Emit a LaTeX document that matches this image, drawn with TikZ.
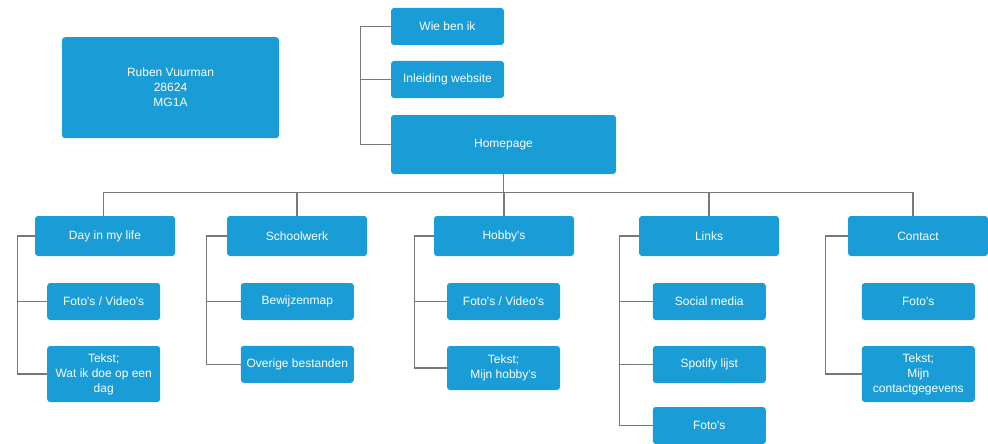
\documentclass[tikz,border=0pt]{standalone}
\usepackage{fontspec}
\setmainfont{Liberation Sans}
\usetikzlibrary{positioning}
\definecolor{boxblue}{RGB}{26,156,214}
\definecolor{linegray}{RGB}{120,120,120}
\newcommand{\apos}{\textquotesingle}
\tikzset{
  box/.style={fill=boxblue, rounded corners=3pt, text=white, align=center, inner sep=0pt,
    font=\fontsize{12}{15}\selectfont},
  pagebox/.style={box, minimum width=140pt, minimum height=40pt},
  subbox/.style={box, minimum width=113pt, minimum height=37pt},
  tree/.style={draw=linegray, line width=1.1pt}
}
\begin{document}
\begin{tikzpicture}[x=1pt,y=-1pt]
\useasboundingbox (0,0) rectangle (988,444);
% top
\node[box, minimum width=217pt, minimum height=101pt] (ruben) at (170.5,87.7) {Ruben Vuurman\\28624\\MG1A};
\node[subbox] (wie) at (447.5,26.5) {Wie ben ik};
\node[subbox] (inleiding) at (447.5,79.5) {Inleiding website};
\node[box, minimum width=225pt, minimum height=59pt] (home) at (503.5,144.5) {Homepage};
% pages
\node[pagebox] (day) at (105,236) {Day in my life};
\node[pagebox] (school) at (297,236) {Schoolwerk};
\node[pagebox] (hobby) at (504,236) {Hobby\apos s};
\node[pagebox] (links) at (709,236) {Links};
\node[pagebox] (contact) at (918,236) {Contact};
% subpages
\node[subbox] (dayfoto) at (103.7,301.5) {Foto\apos s / Video\apos s};
\node[subbox, minimum height=56pt] (daytekst) at (103.7,374) {Tekst;\\Wat ik doe op een\\dag};
\node[subbox] (bewijzen) at (297.3,301.5) {Bewijzenmap};
\node[subbox] (overige) at (297.3,364.3) {Overige bestanden};
\node[subbox] (hobfoto) at (503.5,301.5) {Foto\apos s / Video\apos s};
\node[subbox, minimum height=44pt] (hobtekst) at (503.5,368) {Tekst;\\Mijn hobby\apos s};
\node[subbox] (social) at (709.3,301.5) {Social media};
\node[subbox] (spotify) at (709.3,364.5) {Spotify lijst};
\node[subbox] (linkfoto) at (709.3,425.5) {Foto\apos s};
\node[subbox] (confoto) at (918.3,301.5) {Foto\apos s};
\node[subbox, minimum height=56pt] (contekst) at (918.3,374) {Tekst;\\Mijn\\contactgegevens};
% lines
\draw[tree] (wie.west) -- ++(-30,0) coordinate (topspine) |- (home.west);
\draw[tree] (topspine |- inleiding.west) -- (inleiding.west);
\draw[tree] (home.south) -- ++(0,18) coordinate (bus);
\draw[tree] ([xshift=-1.7pt]day.north) -- ([xshift=-1.7pt]day.north |- bus) -- ([xshift=-5pt]contact.north |- bus) -- ([xshift=-5pt]contact.north);
\draw[tree] (school.north) -- (school.north |- bus);
\draw[tree] (hobby.north) -- (hobby.north |- bus);
\draw[tree] (links.north) -- (links.north |- bus);
\draw[tree] (day.west) -- ++(-17.7,0) coordinate (dayspine) |- (daytekst.west);
\draw[tree] (dayspine |- dayfoto.west) -- (dayfoto.west);
\draw[tree] (school.west) -- ++(-20.7,0) coordinate (schoolspine) |- (overige.west);
\draw[tree] (schoolspine |- bewijzen.west) -- (bewijzen.west);
\draw[tree] (hobby.west) -- ++(-19.3,0) coordinate (hobspine) |- (hobtekst.west);
\draw[tree] (hobspine |- hobfoto.west) -- (hobfoto.west);
\draw[tree] (links.west) -- ++(-19.7,0) coordinate (linkspine) |- (linkfoto.west);
\draw[tree] (linkspine |- social.west) -- (social.west);
\draw[tree] (linkspine |- spotify.west) -- (spotify.west);
\draw[tree] (contact.west) -- ++(-22.7,0) |- (contekst.west);
\end{tikzpicture}
\end{document}
